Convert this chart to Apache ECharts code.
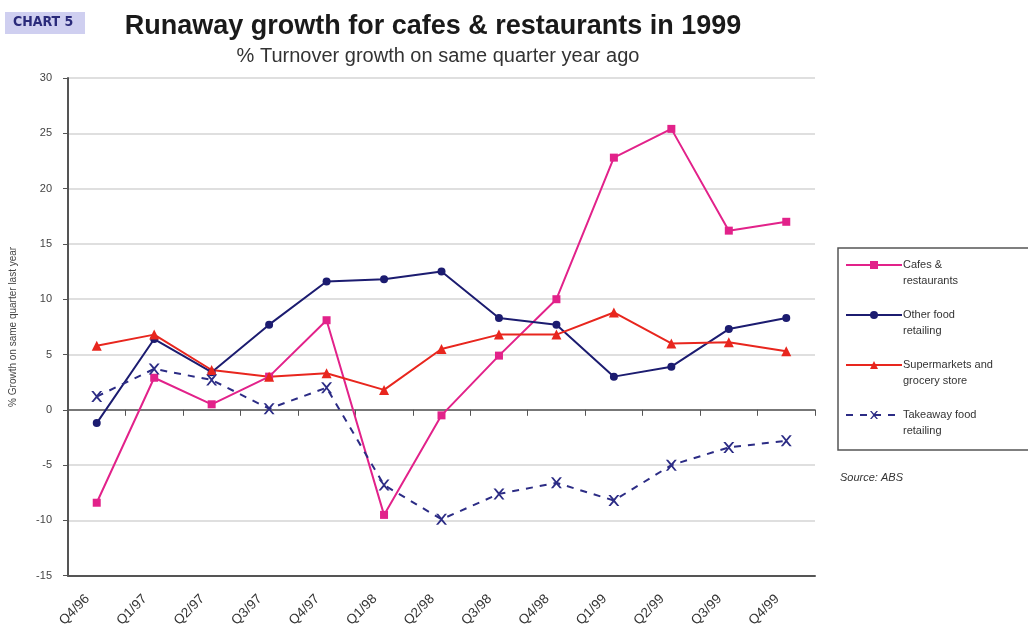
<!DOCTYPE html>
<html style="height: 100%">
<head>
<meta charset="utf-8">
</head>
<body style="height: 100%; margin: 0; background: #fff">
<div id="container" style="width: 1028px; height: 630px"></div>
<script src="https://cdn.jsdelivr.net/npm/echarts@6/dist/echarts.min.js"></script>
<script type="text/javascript">
var quarters = ['Q4/96', 'Q1/97', 'Q2/97', 'Q3/97', 'Q4/97', 'Q1/98', 'Q2/98', 'Q3/98', 'Q4/98', 'Q1/99', 'Q2/99', 'Q3/99', 'Q4/99'];
var cafes = [-8.4, 2.9, 0.5, 3.0, 8.1, -9.5, -0.5, 4.9, 10.0, 22.8, 25.4, 16.2, 17.0];
var otherFood = [-1.2, 6.4, 3.4, 7.7, 11.6, 11.8, 12.5, 8.3, 7.7, 3.0, 3.9, 7.3, 8.3];
var supermarkets = [5.8, 6.8, 3.6, 3.0, 3.3, 1.8, 5.5, 6.8, 6.8, 8.8, 6.0, 6.1, 5.3];
var takeaway = [1.2, 3.7, 2.7, 0.1, 2.0, -6.8, -9.9, -7.6, -6.6, -8.2, -5.0, -3.4, -2.8];
var seriesNames = ['Cafes &\nrestaurants', 'Other food\nretailing', 'Supermarkets and\ngrocery store', 'Takeaway food\nretailing'];

var crossPath = 'path://M0,0 L2,0 L5,3.5 L8,0 L10,0 L6,5 L10,10 L8,10 L5,6.5 L2,10 L0,10 L4,5 Z';

var chart = echarts.init(document.getElementById('container'));
var option = {
    backgroundColor: '#fff',
    textStyle: { fontFamily: 'Liberation Sans, Arial, sans-serif' },
    title: [
        {
            text: 'Runaway growth for cafes & restaurants in 1999',
            left: 428,
            top: 8,
            textAlign: 'center',
            textStyle: { fontSize: 27, fontWeight: 'bold', color: '#1a1a1a' }
        },
        {
            text: '% Turnover growth on same quarter year ago',
            left: 433,
            top: 41,
            textAlign: 'center',
            textStyle: { fontSize: 20, fontWeight: 'normal', color: '#333' }
        }
    ],
    graphic: [
        { type: 'rect', left: 5, top: 12, shape: { width: 80, height: 22 }, style: { fill: '#cfcff0' } },
        { type: 'text', left: 13, top: 15, style: { text: 'CHART 5', fill: '#2a2a7a', font: 'bold 14px "DejaVu Sans Condensed", sans-serif' } },
        { type: 'rect', shape: { x: 838, y: 248, width: 200, height: 202 }, style: { fill: 'none', stroke: '#555', lineWidth: 1.5 } },
        { type: 'text', left: 840, top: 472, style: { text: 'Source: ABS', fill: '#333', font: 'italic 11px "Liberation Sans", Arial, sans-serif' } }
    ],
    legend: {
        orient: 'vertical',
        left: 845,
        top: 241,
        data: seriesNames,
        formatter: function (name) { return '\n' + name; },
        itemWidth: 56,
        itemHeight: 10,
        itemGap: 2,
        padding: 0,
        textStyle: { fontSize: 11, color: '#333', lineHeight: 16, padding: [0, 0, 0, -4] }
    },
    grid: { left: 68, right: 213, top: 78, bottom: 53 },
    xAxis: [
        {
            type: 'category',
            data: quarters,
            boundaryGap: true,
            axisLine: { onZero: true, lineStyle: { color: '#555', width: 1.5 } },
            axisTick: { show: true, length: 6, lineStyle: { color: '#555' } },
            axisLabel: { show: false },
            splitLine: { show: false }
        },
        {
            type: 'category',
            data: quarters,
            position: 'bottom',
            boundaryGap: true,
            axisLine: { onZero: false, lineStyle: { color: '#555', width: 2 } },
            axisTick: { show: false },
            axisLabel: { rotate: 45, fontSize: 13.5, color: '#333', margin: 12, padding: [0, 13, 0, 0] }
        }
    ],
    yAxis: {
        type: 'value',
        min: -15,
        max: 30,
        interval: 5,
        name: '% Growth on same quarter last year',
        nameLocation: 'middle',
        nameGap: 50,
        nameTextStyle: { fontSize: 10, color: '#444' },
        axisLine: { show: true, lineStyle: { color: '#555', width: 2 } },
        axisTick: { show: true, length: 5, lineStyle: { color: '#555' } },
        axisLabel: { fontSize: 11, color: '#444', margin: 16 },
        splitLine: { lineStyle: { color: '#d4d4d4', width: 1.5 } }
    },
    series: [
        {
            name: seriesNames[0], type: 'line', data: cafes,
            symbol: 'rect', symbolSize: 8,
            lineStyle: { color: '#e2228a', width: 2 },
            itemStyle: { color: '#e2228a' }
        },
        {
            name: seriesNames[1], type: 'line', data: otherFood,
            symbol: 'circle', symbolSize: 8,
            lineStyle: { color: '#1c1c70', width: 2 },
            itemStyle: { color: '#1c1c70' }
        },
        {
            name: seriesNames[2], type: 'line', data: supermarkets,
            symbol: 'triangle', symbolSize: 10,
            lineStyle: { color: '#e8261e', width: 2 },
            itemStyle: { color: '#e8261e' }
        },
        {
            name: seriesNames[3], type: 'line', data: takeaway,
            symbol: crossPath, symbolSize: 11,
            lineStyle: { color: '#2c2c85', width: 2, type: [7, 7] },
            itemStyle: { color: '#2c2c85' },
            markLine: {
                silent: true, symbol: 'none', label: { show: false },
                lineStyle: { color: '#c8c8c8', width: 1.5, type: 'solid' },
                data: [{ xAxis: quarters.length - 1 + 0.5 }]
            }
        }
    ]
};
chart.setOption(option);
</script>
</body>
</html>
